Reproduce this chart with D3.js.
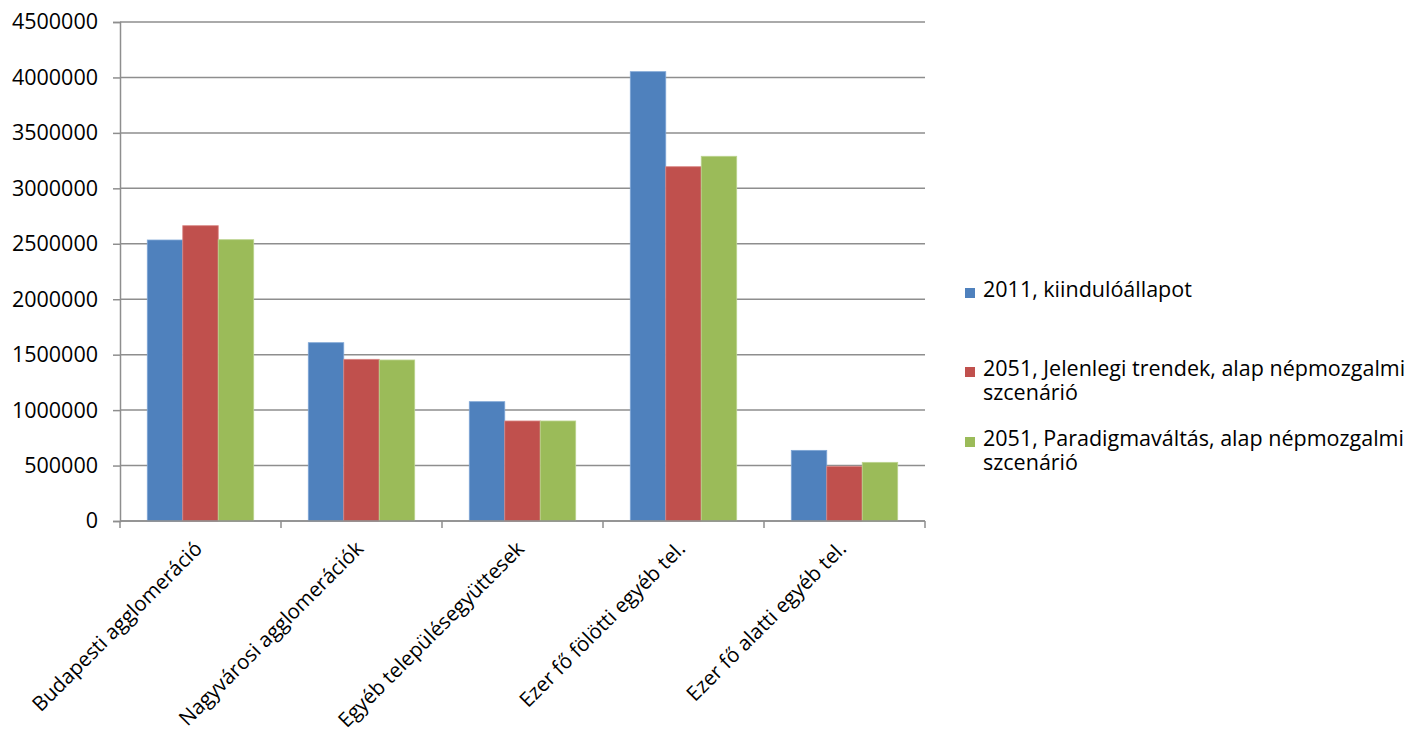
<!DOCTYPE html>
<html><head><meta charset="utf-8">
<script src="https://cdn.jsdelivr.net/npm/d3@7"></script>
<style>body{margin:0;background:#fff}svg{display:block}text{font-family:"Open Sans",Lato,sans-serif;fill:#000}</style>
</head><body><svg id="c" width="1410" height="740"></svg>
<script>
const categories = ["Budapesti agglomeráció","Nagyvárosi agglomerációk","Egyéb településegyüttesek","Ezer fő fölötti egyéb tel.","Ezer fő alatti egyéb tel."];
const seriesNames = ["2011, kiindulóállapot","2051, Jelenlegi trendek, alap népmozgalmi szcenárió","2051, Paradigmaváltás, alap népmozgalmi szcenárió"];
const values2011 = [2534000,1608000,1076000,4052000,637000];
const valuesTrend = [2663000,1458000,902000,3195000,493000];
const valuesParadigm = [2537000,1452000,902000,3289000,529000];
const yTicks = [0,500000,1000000,1500000,2000000,2500000,3000000,3500000,4000000,4500000];
const legendLines = [["2011, kiindulóállapot"],["2051, Jelenlegi trendek, alap népmozgalmi","szcenárió"],["2051, Paradigmaváltás, alap népmozgalmi","szcenárió"]];
const colors = ["#4F81BD","#C0504D","#9BBB59"];
const strokes = ["#7FA6D6","#D98583","#BCD48F"];

const svg = d3.select("#c");
const L=120,R=925,T=22,B=521;
const FS=21.5, XFS=20.5;
const series=[values2011,valuesTrend,valuesParadigm];
const y=d3.scaleLinear().domain([0,4500000]).range([B,T]);
const x0=d3.scaleBand().domain(categories).range([L,R]).paddingInner(0.339).paddingOuter(0.1695);
const x1=d3.scaleBand().domain([0,1,2]).range([0,x0.bandwidth()]);
const grid="#8e8e8e";

// gridlines
svg.append("g").selectAll("line").data(yTicks).join("line")
 .attr("x1",L).attr("x2",R).attr("y1",d=>y(d)).attr("y2",d=>y(d))
 .attr("stroke",grid).attr("stroke-width",1.5);

// y axis
const ya=svg.append("g").attr("transform",`translate(${L},0)`)
 .call(d3.axisLeft(y).tickValues(yTicks).tickFormat(d=>String(d)).tickSize(7).tickPadding(15));
ya.select(".domain").attr("stroke",grid).attr("stroke-width",1.5);
ya.selectAll(".tick line").attr("stroke",grid).attr("stroke-width",1.5);
ya.selectAll(".tick text").attr("font-size",FS).attr("font-family","'Open Sans'").attr("fill","#000");

// bars
const g=svg.append("g");
categories.forEach((c,i)=>{
  series.forEach((s,j)=>{
    g.append("rect").attr("x",x0(c)+x1(j)).attr("y",y(s[i])).attr("width",x1.bandwidth()).attr("height",y(0)-y(s[i]))
     .attr("fill",colors[j]).attr("stroke",strokes[j]).attr("stroke-width",0.8);
  });
});

// x axis
const xa=svg.append("g");
xa.append("line").attr("x1",L).attr("x2",R).attr("y1",B).attr("y2",B).attr("stroke",grid).attr("stroke-width",1.5);
const bounds=categories.map(c=>x0(c)-x0.step()*x0.paddingInner()/2).concat([R]);
bounds[0]=L;
xa.selectAll("line.t").data(bounds).join("line").attr("class","t")
 .attr("x1",d=>d).attr("x2",d=>d).attr("y1",B).attr("y2",B+7).attr("stroke",grid).attr("stroke-width",1.5);
xa.selectAll("text").data(categories).join("text")
 .attr("transform",d=>`translate(${x0(d)+x0.bandwidth()/2+3},${B+29}) rotate(-45)`)
 .attr("text-anchor","end").attr("font-size",XFS).text(d=>d);

// legend
const lg=svg.append("g");
const itemY=[297,376,446];
legendLines.forEach((lines,i)=>{
  lg.append("rect").attr("x",965).attr("y",itemY[i]-9).attr("width",10).attr("height",10).attr("fill",colors[i]);
  const t=lg.append("text").attr("x",983).attr("y",itemY[i]).attr("font-size",FS);
  lines.forEach((s,k)=>{
    t.append("tspan").attr("x",983).attr("dy",k===0?0:24).text(s);
  });
});
</script></body></html>
